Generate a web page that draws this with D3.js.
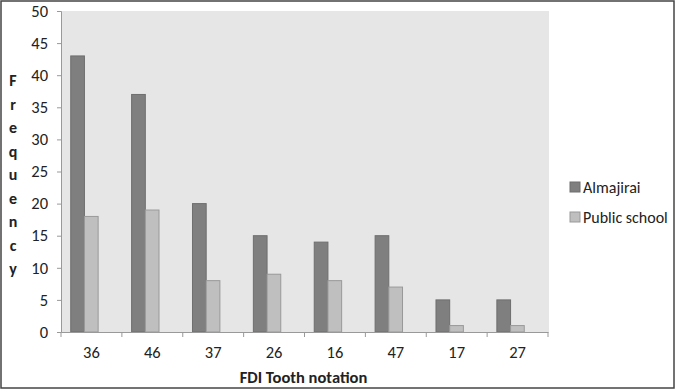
<!DOCTYPE html>
<html>
<head>
<meta charset="utf-8">
<script src="https://cdn.jsdelivr.net/npm/d3@7"></script>
<style>
  body { margin: 0; background: #fff; }
  svg text { font-family: Carlito, Lato, "Open Sans", sans-serif; fill: #222; }
</style>
</head>
<body>
<svg width="676" height="390"></svg>
<script>
const categories = ["36", "46", "37", "26", "16", "47", "17", "27"];
const seriesNames = ["Almajirai", "Public school"];
const almajirai = [43, 37, 20, 15, 14, 15, 5, 5];
const publicSchool = [18, 19, 8, 9, 8, 7, 1, 1];
const yTicks = [0, 5, 10, 15, 20, 25, 30, 35, 40, 45, 50];

const colors = { "Almajirai": "#7f7f7f", "Public school": "#bfbfbf" };
const strokes = { "Almajirai": "#6e6e6e", "Public school": "#999" };

const svg = d3.select("svg");
const margin = { top: 11, right: 128, bottom: 58, left: 61 };
const width = 676 - margin.left - margin.right;
const height = 390 - margin.top - margin.bottom;
const g = svg.append("g").attr("transform", `translate(${margin.left},${margin.top})`);

// outer frame
svg.append("rect")
    .attr("x", 1).attr("y", 1).attr("width", 673).attr("height", 387)
    .attr("fill", "none").attr("stroke", "#444").attr("stroke-width", 1.5);

const x = d3.scaleBand().domain(categories).range([0, width]).padding(0);
const y = d3.scaleLinear().domain([0, 50]).range([height, 0]);
const bw = x.bandwidth();
const xs = d3.scaleBand().domain(seriesNames).range([bw * 0.16, bw * 0.61]).padding(0);

g.append("rect")
    .attr("width", width + 1).attr("height", height)
    .attr("fill", "#e6e6e6");

const data = [];
categories.forEach((c, i) => {
    data.push({ cat: c, series: "Almajirai", value: almajirai[i] });
    data.push({ cat: c, series: "Public school", value: publicSchool[i] });
});

g.selectAll(".bar")
    .data(data)
    .enter().append("rect")
    .attr("class", "bar")
    .attr("x", d => x(d.cat) + xs(d.series))
    .attr("y", d => y(d.value))
    .attr("width", xs.bandwidth())
    .attr("height", d => height - y(d.value))
    .attr("fill", d => colors[d.series])
    .attr("stroke", d => strokes[d.series])
    .attr("stroke-width", 1);

// y axis
const yAxis = g.append("g")
    .call(d3.axisLeft(y).tickValues(yTicks).tickSize(4).tickPadding(9));
yAxis.select(".domain").attr("stroke", "#999");
yAxis.selectAll(".tick line").attr("stroke", "#999");
yAxis.selectAll(".tick text").attr("font-size", 16.5).style("fill", "#222");

// x axis
const xAxis = g.append("g")
    .attr("transform", `translate(0,${height})`)
    .call(d3.axisBottom(x).tickSize(0).tickPadding(14));
xAxis.select(".domain").attr("stroke", "#999");
xAxis.selectAll(".tick text").attr("font-size", 16.5).style("fill", "#222");

const bounds = categories.map(c => x(c)).concat([width]);
g.selectAll(".xtick")
    .data(bounds)
    .enter().append("line")
    .attr("class", "xtick")
    .attr("x1", d => d).attr("x2", d => d)
    .attr("y1", height).attr("y2", height + 5)
    .attr("stroke", "#999");

// axis titles
svg.append("text")
    .attr("x", margin.left + width / 2 - 1)
    .attr("y", 383)
    .attr("text-anchor", "middle")
    .attr("font-size", 16.5)
    .attr("font-weight", "bold")
    .text("FDI Tooth notation");

const yTitle = svg.append("text")
    .attr("font-size", 16)
    .attr("font-weight", "bold")
    .attr("text-anchor", "middle");
"Frequency".split("").forEach((ch, i) => {
    yTitle.append("tspan")
        .attr("x", 13)
        .attr("y", 86 + i * 23.5)
        .text(ch);
});

// legend
const legend = svg.append("g");
seriesNames.forEach((s, i) => {
    const row = legend.append("g").attr("transform", `translate(570,${182 + i * 30})`);
    row.append("rect")
        .attr("width", 10).attr("height", 10)
        .attr("fill", colors[s]).attr("stroke", strokes[s]);
    row.append("text")
        .attr("x", 13).attr("y", 10.5)
        .attr("font-size", 16)
        .text(s);
});
</script>
</body>
</html>
